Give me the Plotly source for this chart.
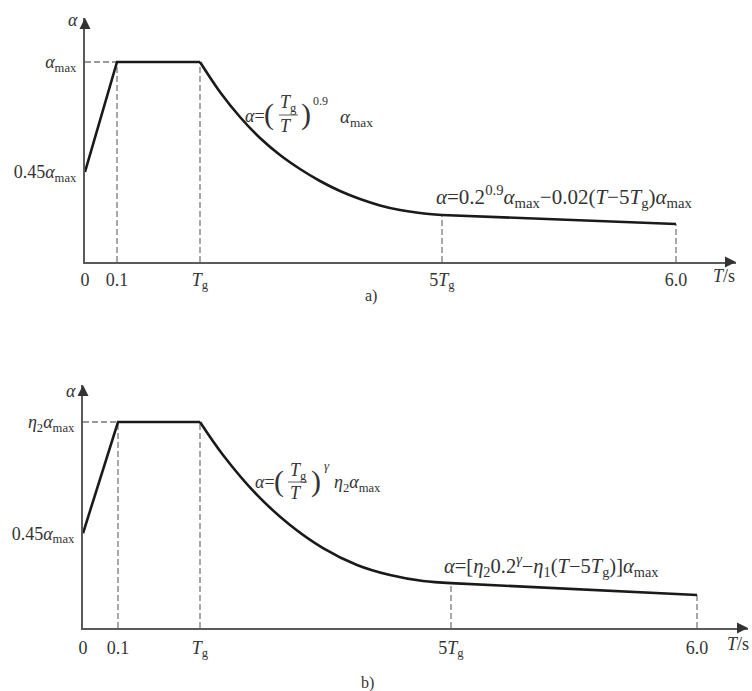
import plotly.graph_objects as go

W, H = 752, 691
FONT = "Liberation Serif"
TXT = "#333333"

# ---------------- data (schematic positions along T, alpha / alpha_max) -------------
tick_text = ["0", "0.1", "<i>T</i><sub>g</sub>", "5<i>T</i><sub>g</sub>", "6.0"]

# panel a
ticks_a = [0, 32, 115, 357, 591]
rise_a_x = [0, 32, 115]
rise_a_y = [0.45, 1.0, 1.0]
decay_a_x = [115, 135, 155, 175, 195, 215, 235, 255, 275, 295, 315, 335, 357]
decay_a_y = [1.0, 0.85, 0.725, 0.62, 0.535, 0.465, 0.405, 0.355, 0.315, 0.283, 0.26, 0.245, 0.235]
tail_a_x = [357, 591]
tail_a_y = [0.235, 0.19]

# panel b
ticks_b = [0, 35, 117, 368, 614]
rise_b_x = [0, 35, 117]
rise_b_y = [0.46, 1.0, 1.0]
decay_b_x = [117, 140, 174, 207, 240, 274, 307, 340, 368]
decay_b_y = [1.0, 0.84, 0.646, 0.50, 0.388, 0.306, 0.257, 0.228, 0.218]
tail_b_x = [368, 614]
tail_b_y = [0.218, 0.16]

ylabels_a = ["<i>α</i><sub>max</sub>", "0.45<i>α</i><sub>max</sub>"]
ylabels_b = ["<i>η</i><sub>2</sub><i>α</i><sub>max</sub>", "0.45<i>α</i><sub>max</sub>"]

# ---------------- layout geometry -------------
def px(x, y):
    return x / W, 1 - y / H

fig = go.Figure()

def panel(xa, ya, rx, ry, dx, dy, tx, ty):
    line = dict(color="#1a1a1a", width=2.6)
    dash = dict(color="#7a7a7a", width=1.3, dash="6px,3px")
    top = ry[1]
    fig.add_trace(go.Scatter(x=[0, rx[1]], y=[top, top], mode="lines", line=dash,
                             xaxis=xa, yaxis=ya, hoverinfo="skip"))
    for xv, yv in [(rx[1], ry[1]), (rx[2], ry[2]), (tx[0], ty[0]), (tx[1], ty[1])]:
        fig.add_trace(go.Scatter(x=[xv, xv], y=[0, yv], mode="lines", line=dash,
                                 xaxis=xa, yaxis=ya, hoverinfo="skip"))
    fig.add_trace(go.Scatter(x=rx, y=ry, mode="lines", line=line, xaxis=xa, yaxis=ya))
    fig.add_trace(go.Scatter(x=dx, y=dy, mode="lines",
                             line=dict(line, shape="spline", smoothing=1.0),
                             xaxis=xa, yaxis=ya))
    fig.add_trace(go.Scatter(x=tx, y=ty, mode="lines", line=line, xaxis=xa, yaxis=ya))

panel("x", "y", rise_a_x, rise_a_y, decay_a_x, decay_a_y, tail_a_x, tail_a_y)
panel("x2", "y2", rise_b_x, rise_b_y, decay_b_x, decay_b_y, tail_b_x, tail_b_y)

ax_common = dict(showgrid=False, zeroline=False, showline=True, linecolor="#5a5a5a", linewidth=2.2,
                 ticks="", tickfont=dict(family=FONT, size=18, color=TXT), automargin=False,
                 fixedrange=True)

xa_rng = [0, 651]
ya_rng = [0, 244 / 200]
xb_rng = [0, 665]
yb_rng = [0, 243 / 206]

fig.update_layout(
    width=W, height=H, margin=dict(l=0, r=0, t=0, b=0),
    paper_bgcolor="white", plot_bgcolor="white", showlegend=False,
    xaxis=dict(ax_common, domain=[85 / W, 736 / W], range=xa_rng, anchor="y",
               tickvals=ticks_a, ticktext=tick_text, ticklabelstandoff=0),
    yaxis=dict(ax_common, domain=[1 - 262 / H, 1 - 18 / H], range=ya_rng, anchor="x",
               tickvals=[1.0, 0.45], ticktext=ylabels_a, ticklabelstandoff=3),
    xaxis2=dict(ax_common, domain=[83 / W, 748 / W], range=xb_rng, anchor="y2",
                tickvals=ticks_b, ticktext=tick_text, ticklabelstandoff=2),
    yaxis2=dict(ax_common, domain=[1 - 628 / H, 1 - 385 / H], range=yb_rng, anchor="x2",
                tickvals=[1.0, 0.46], ticktext=ylabels_b, ticklabelstandoff=3),
)

ann = []
def arrow(xr, yr, x, y, axp, ayp):
    ann.append(dict(xref=xr, yref=yr, x=x, y=y, ax=axp, ay=ayp, text="", showarrow=True,
                    arrowhead=2, arrowsize=1.1, arrowwidth=2, arrowcolor="#333333"))

arrow("x", "y", xa_rng[1], 0, -12, 0)
arrow("x", "y", 0, ya_rng[1], 0, 12)
arrow("x2", "y2", xb_rng[1], 0, -12, 0)
arrow("x2", "y2", 0, yb_rng[1], 0, 12)

def text(x, y, s, size=18, anchor="center"):
    xp, yp = px(x, y)
    ann.append(dict(xref="paper", yref="paper", x=xp, y=yp, text=s, showarrow=False,
                    xanchor=anchor, yanchor="middle",
                    font=dict(family=FONT, size=size, color=TXT)))

# axis names
text(73, 20, "<i>α</i>", 18)
text(71, 391, "<i>α</i>", 18)
text(724, 276, "<i>T</i>/s", 18)
text(738, 644, "<i>T</i>/s", 18)
text(371, 296, "a)", 16)
text(367, 683, "b)", 16)

# formula a (decay): α=(Tg/T)^0.9 αmax
text(243, 116, "<i>α</i>=", 18, "left")
text(269, 114, "(", 30)
text(288, 103, "<i>T</i><sub>g</sub>", 18)
text(286, 126, "<i>T</i>", 18)
text(306, 114, ")", 30)
text(311, 101, "0.9", 12, "left")
text(338, 118, "<i>α</i><sub>max</sub>", 19, "left")
# formula b (decay): α=(Tg/T)^γ η2 αmax
text(253, 482, "<i>α</i>=", 18, "left")
text(279, 481, "(", 30)
text(298, 471, "<i>T</i><sub>g</sub>", 18)
text(296, 493, "<i>T</i>", 18)
text(316, 481, ")", 30)
text(322, 465, "<i>γ</i>", 13, "left")
text(332, 483, "<i>η</i><sub>2</sub><i>α</i><sub>max</sub>", 18, "left")

# tail formulas
text(434, 196, "<i>α</i>=0.2<sup>0.9</sup><i>α</i><sub>max</sub>−0.02(<i>T</i>−5<i>T</i><sub>g</sub>)<i>α</i><sub>max</sub>", 21, "left")
text(442, 565, "<i>α</i>=[<i>η</i><sub>2</sub>0.2<sup><i>γ</i></sup>−<i>η</i><sub>1</sub>(<i>T</i>−5<i>T</i><sub>g</sub>)]<i>α</i><sub>max</sub>", 20.5, "left")

fig.update_layout(annotations=ann)

# fraction bars
for (x0, x1, y) in [(279, 298, 115), (288, 307, 482)]:
    fig.add_shape(type="line", xref="paper", yref="paper",
                  x0=x0 / W, x1=x1 / W, y0=1 - y / H, y1=1 - y / H,
                  line=dict(color=TXT, width=0.8))

fig.write_html("out.html", config={"displayModeBar": False},
               post_script="document.body.style.margin='0';")
